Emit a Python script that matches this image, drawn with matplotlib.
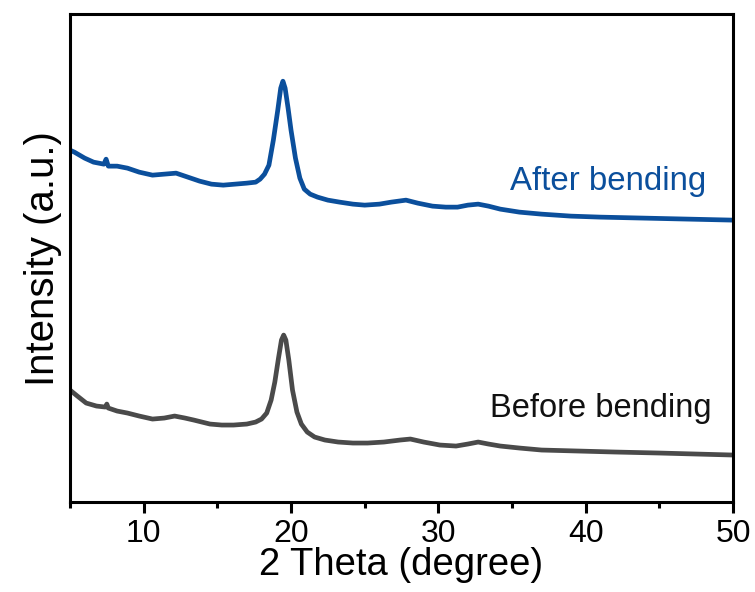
import numpy as np
import matplotlib
matplotlib.use("Agg")
import matplotlib.pyplot as plt
from matplotlib.ticker import MultipleLocator

# Patrones XRD antes y después del doblado
theta_after = [5.0, 5.3, 6.0, 6.6, 7.3, 7.45, 7.6, 8.2, 8.9, 9.7, 10.6, 11.4, 12.2,
               13.0, 13.8, 14.6, 15.4, 16.2, 17.0, 17.6, 17.9, 18.2, 18.5, 18.8,
               19.1, 19.3, 19.45, 19.6, 19.8, 20.0, 20.3, 20.6, 20.9, 21.3, 21.8,
               22.5, 23.3, 24.2, 25.0, 26.0, 26.8, 27.8, 28.6, 29.6, 30.5, 31.3,
               32.0, 32.7, 33.4, 34.2, 35.5, 37.0, 39.0, 41.0, 44.0, 47.0, 50.0]
int_after = [352, 350, 344, 340, 338, 343, 336, 336, 334, 330, 327, 328, 329,
             325, 321, 318, 317, 318, 319, 320, 323, 328, 337, 362,
             392, 414, 421, 414, 394, 372, 344, 324, 313, 308, 305,
             302, 300, 298, 297, 298, 300, 302, 299, 296, 295, 295,
             297, 298, 296, 293, 290, 288, 286, 285, 284, 283, 282]

theta_before = [5.0, 5.5, 6.1, 6.8, 7.4, 7.5, 7.6, 8.2, 8.9, 9.7, 10.6, 11.4, 12.1,
                12.8, 13.4, 14.5, 15.3, 16.1, 17.0, 17.6, 18.0, 18.35, 18.65, 18.9,
                19.15, 19.35, 19.5, 19.65, 19.85, 20.1, 20.4, 20.7, 21.1, 21.6,
                22.3, 23.2, 24.2, 25.2, 26.3, 27.4, 28.1, 29.0, 30.1, 31.2, 32.0,
                32.7, 33.4, 34.2, 35.5, 37.0, 39.5, 42.0, 45.0, 47.5, 50.0]
int_before = [112, 106, 99, 96, 95, 98, 94, 91, 89, 86, 83, 84, 86,
              84, 82, 78, 77, 77, 78, 80, 83, 89, 102, 120,
              144, 162, 167, 162, 142, 112, 90, 78, 70, 65,
              62, 60, 59, 59, 60, 62, 63, 60, 57, 56, 58,
              60, 58, 56, 54, 52, 51, 50, 49, 48, 47]

etiquetas = ["After bending", "Before bending"]
colores = ["#0b4f9c", "#4a4a4a"]

plt.rcParams["font.family"] = ["Liberation Sans", "DejaVu Sans"]

fig = plt.figure(figsize=(7.55, 5.92), dpi=100)
ax = fig.add_axes([0.0927, 0.152, 0.8783, 0.824])

ax.plot(theta_after, int_after, color=colores[0], lw=3.4, solid_joinstyle="round")
ax.plot(theta_before, int_before, color=colores[1], lw=3.4, solid_joinstyle="round")

ax.text(41.5, 321, etiquetas[0], color=colores[0], fontsize=23.8, ha="center", va="center")
ax.text(41.0, 94, etiquetas[1], color="#111111", fontsize=23.5, ha="center", va="center")

ax.set_xlim(5, 50)
ax.set_ylim(0, 488)
ax.xaxis.set_major_locator(MultipleLocator(10))
ax.xaxis.set_minor_locator(MultipleLocator(5))
ax.set_yticks([])

for s in ax.spines.values():
    s.set_linewidth(2.2)
ax.tick_params(axis="x", which="major", direction="out", length=8, width=2.2,
               labelsize=23, pad=4)
ax.tick_params(axis="x", which="minor", direction="out", length=4.5, width=2.2)

ax.set_xlabel("2 Theta (degree)", fontsize=27.5, labelpad=-1)
ax.set_ylabel("Intensity (a.u.)", fontsize=29, labelpad=6)

fig.savefig("out.png", dpi=100)
